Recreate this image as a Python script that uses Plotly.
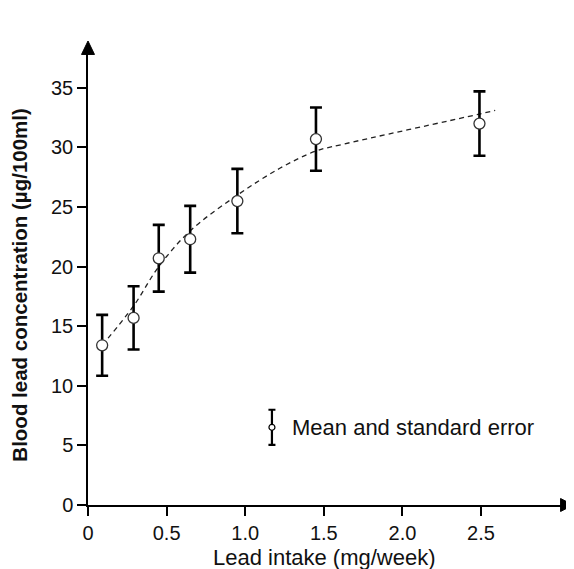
import plotly.graph_objects as go

# ---- data ----
intake = [0.09, 0.29, 0.45, 0.65, 0.95, 1.45, 2.49]
blood_lead = [13.4, 15.7, 20.7, 22.3, 25.5, 30.7, 32.0]
std_err = [2.55, 2.65, 2.8, 2.8, 2.7, 2.65, 2.7]

fit_x = [0.09, 0.29, 0.45, 0.65, 0.95, 1.22, 1.45, 1.6, 2.49, 2.59]
fit_y = [13.4, 16.7, 20.0, 23.0, 26.0, 28.25, 29.7, 30.2, 32.8, 33.1]

x_ticks = [0, 0.5, 1.0, 1.5, 2.0, 2.5]
x_tick_labels = ["0", "0.5", "1.0", "1.5", "2.0", "2.5"]
y_ticks = [0, 5, 10, 15, 20, 25, 30, 35]

legend_x = [1.17]
legend_y = [6.52]
legend_err = [1.47]
legend_text = "Mean and standard error"

x_title = "Lead intake (mg/week)"
y_title = "Blood lead concentration (µg/100ml)"

FONT = "Liberation Sans, Arial, sans-serif"

fig = go.Figure()

fig.add_trace(go.Scatter(
    x=fit_x, y=fit_y, mode="lines",
    line=dict(color="#222222", width=1.3, dash="5px,4px", shape="spline", smoothing=1.0),
    hoverinfo="skip", showlegend=False,
))

fig.add_trace(go.Scatter(
    x=intake, y=blood_lead, mode="markers",
    marker=dict(size=11, color="white", line=dict(color="#333333", width=1.3)),
    error_y=dict(type="data", array=std_err, visible=True, color="black",
                 thickness=2.6, width=6),
    showlegend=False, cliponaxis=False,
))

fig.add_trace(go.Scatter(
    x=legend_x, y=legend_y, mode="markers",
    marker=dict(size=6, color="white", line=dict(color="black", width=1.2)),
    error_y=dict(type="data", array=legend_err, visible=True, color="black",
                 thickness=2.2, width=3.5),
    showlegend=False, cliponaxis=False,
))

fig.add_annotation(
    x=1.288, y=legend_y[0], xref="x", yref="y", text=legend_text,
    showarrow=False, xanchor="left", yanchor="middle",
    font=dict(family=FONT, size=22, color="#111111"),
)

# axis titles
fig.add_annotation(
    x=0.498, y=-0.1165, xref="paper", yref="paper", text=x_title,
    showarrow=False, xanchor="center", yanchor="middle",
    font=dict(family=FONT, size=22, color="#111111"),
)
fig.add_annotation(
    x=-0.1435, y=0.4885, xref="paper", yref="paper", text="<b>" + y_title + "</b>",
    showarrow=False, xanchor="center", yanchor="middle", textangle=-90,
    font=dict(family=FONT, size=20.5, color="#111111"),
)

# arrow heads at the ends of the axes
fig.add_shape(type="path", xref="paper", yref="paper",
              path="M 0.997,0.0144 L 1.0232,0 L 0.997,-0.0144 Z",
              fillcolor="black", line=dict(color="black", width=1))
fig.add_shape(type="path", xref="paper", yref="paper",
              path="M -0.0137,0.999 L 0,1.0288 L 0.0137,0.999 Z",
              fillcolor="black", line=dict(color="black", width=1))

fig.update_xaxes(
    range=[0, 3.015], showline=True, linecolor="black", linewidth=1.5,
    showgrid=False, zeroline=False, ticks="outside", ticklen=9, tickwidth=1.5,
    tickcolor="black", tickvals=x_ticks, ticktext=x_tick_labels,
    tickfont=dict(family=FONT, size=20, color="#111111"),
)
fig.update_yaxes(
    range=[0, 37.84], showline=True, linecolor="black", linewidth=1.5,
    showgrid=False, zeroline=False, ticks="outside", ticklen=9, tickwidth=1.5,
    tickcolor="black", tickvals=y_ticks,
    tickfont=dict(family=FONT, size=20, color="#111111"),
)

fig.update_layout(
    width=566, height=561,
    margin=dict(l=80, r=12, t=46, b=64, autoexpand=False),
    plot_bgcolor="white", paper_bgcolor="white",
    font=dict(family=FONT),
)

fig.write_html("out.html")
